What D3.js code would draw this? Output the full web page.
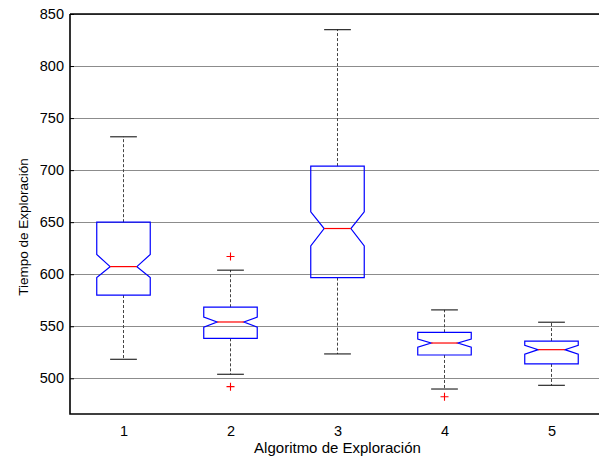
<!DOCTYPE html>
<html>
<head>
<meta charset="utf-8">
<script src="https://cdnjs.cloudflare.com/ajax/libs/d3/7.8.5/d3.min.js"></script>
<style>
	body { margin: 0; background: #fff; overflow: hidden; }
	text { font-family: "Liberation Sans", Arial, sans-serif; }
</style>
</head>
<body>
<div id="chart"></div>
<script>
///////////////////////////////////////////////////////////////////////////
///////////////////////////////// Data ////////////////////////////////////
///////////////////////////////////////////////////////////////////////////

	var algoritmos = [1, 2, 3, 4, 5];
	var q1Values      = [580.0, 538.4, 596.7, 522.4, 513.8];
	var medianValues  = [607.3, 554.1, 643.9, 533.9, 527.5];
	var q3Values      = [650.0, 568.3, 703.9, 544.2, 535.8];
	var notchLow      = [596.7, 549.2, 627.2, 530.0, 523.2];
	var notchHigh     = [618.9, 558.8, 659.9, 537.6, 531.8];
	var whiskerLow    = [518.3, 503.9, 523.4, 489.7, 493.3];
	var whiskerHigh   = [732.0, 603.9, 834.9, 565.7, 553.9];
	var outliers      = [[], [617.0, 492.0], [], [482.3], []];
	var yTicks        = [500, 550, 600, 650, 700, 750, 800, 850];

///////////////////////////////////////////////////////////////////////////
//////////////////////////// Set up the SVG ///////////////////////////////
///////////////////////////////////////////////////////////////////////////

	var width = 599,
		height = 456,
		plotLeft = 70,
		plotRight = 605,	//the axes run a bit past the picture
		plotTop = 14,
		plotBottom = 414;

	var svg = d3.select("#chart").append("svg")
		.attr("width", width)
		.attr("height", height);

	var x = d3.scaleLinear().domain([0.5, 5.5]).range([plotLeft, plotRight]);
	var y = d3.scaleLinear().domain([465.7, 850]).range([plotBottom, plotTop]);

	var boxHalf = 0.25,		//in x units
		notchHalf = 0.125,
		capHalf = 0.125;

	//////////////////////////////////////////////////////
	///////////////////// Grid lines /////////////////////
	//////////////////////////////////////////////////////

	svg.append("g").attr("class", "grid")
		.selectAll("line")
		.data(yTicks)
		.enter().append("line")
		.attr("x1", plotLeft)
		.attr("x2", plotRight)
		.attr("y1", function(d) { return Math.round(y(d)) + 0.5; })
		.attr("y2", function(d) { return Math.round(y(d)) + 0.5; })
		.style("stroke", "#8c8c8c")
		.style("stroke-width", 1);

	//////////////////////////////////////////////////////
	//////////////////////// Axes ////////////////////////
	//////////////////////////////////////////////////////

	var yAxis = d3.axisLeft(y).tickValues(yTicks).tickSize(-4).tickPadding(6);
	var yAxisG = svg.append("g")
		.attr("transform", "translate(" + plotLeft + ",0)")
		.call(yAxis);
	yAxisG.select(".domain").remove();
	yAxisG.selectAll("text")
		.attr("x", -6)
		.style("font-size", "14.5px")
		.attr("fill", "#000");

	//no visible tick marks on the bottom axis
	var xAxis = d3.axisBottom(x).tickValues(algoritmos).tickFormat(d3.format("d")).tickSize(0);
	var xAxisG = svg.append("g")
		.attr("transform", "translate(0," + plotBottom + ")")
		.call(xAxis);
	xAxisG.select(".domain").remove();
	xAxisG.selectAll("text")
		.attr("y", 12)
		.style("font-size", "14.5px")
		.attr("fill", "#000");

	//Frame
	svg.append("path")
		.attr("d", "M" + plotLeft + "," + plotTop + "H" + plotRight + "M" + plotLeft + "," + plotTop +
			"V" + plotBottom + "H" + plotRight)
		.style("fill", "none")
		.style("stroke", "#000")
		.style("stroke-width", 1.6);

	//////////////////////////////////////////////////////
	////////////////////// Boxplots //////////////////////
	//////////////////////////////////////////////////////

	var boxes = svg.append("g").attr("class", "boxes")
		.selectAll("g")
		.data(algoritmos)
		.enter().append("g");

	//Whiskers, dashed
	boxes.append("line")
		.attr("x1", function(d) { return x(d); })
		.attr("x2", function(d) { return x(d); })
		.attr("y1", function(d, i) { return y(q3Values[i]); })
		.attr("y2", function(d, i) { return y(whiskerHigh[i]); })
		.style("stroke", "#444")
		.style("stroke-dasharray", "3,2");
	boxes.append("line")
		.attr("x1", function(d) { return x(d); })
		.attr("x2", function(d) { return x(d); })
		.attr("y1", function(d, i) { return y(q1Values[i]); })
		.attr("y2", function(d, i) { return y(whiskerLow[i]); })
		.style("stroke", "#444")
		.style("stroke-dasharray", "3,2");

	//Whisker caps
	[whiskerHigh, whiskerLow].forEach(function(arr) {
		boxes.append("line")
			.attr("x1", function(d) { return x(d - capHalf); })
			.attr("x2", function(d) { return x(d + capHalf); })
			.attr("y1", function(d, i) { return y(arr[i]); })
			.attr("y2", function(d, i) { return y(arr[i]); })
			.style("stroke", "#000");
	});

	//Notched box outline
	boxes.append("path")
		.attr("d", function(d, i) {
			var l = x(d - boxHalf), r = x(d + boxHalf),
				nl = x(d - notchHalf), nr = x(d + notchHalf);
			return "M" + l + "," + y(q3Values[i]) +
				"L" + r + "," + y(q3Values[i]) +
				"L" + r + "," + y(notchHigh[i]) +
				"L" + nr + "," + y(medianValues[i]) +
				"L" + r + "," + y(notchLow[i]) +
				"L" + r + "," + y(q1Values[i]) +
				"L" + l + "," + y(q1Values[i]) +
				"L" + l + "," + y(notchLow[i]) +
				"L" + nl + "," + y(medianValues[i]) +
				"L" + l + "," + y(notchHigh[i]) + "Z";
		})
		.style("fill", "none")
		.style("stroke", "#0000ff")
		.style("stroke-width", 1.2);

	//Median
	boxes.append("line")
		.attr("x1", function(d) { return x(d - notchHalf); })
		.attr("x2", function(d) { return x(d + notchHalf); })
		.attr("y1", function(d, i) { return y(medianValues[i]); })
		.attr("y2", function(d, i) { return y(medianValues[i]); })
		.style("stroke", "#ff0000")
		.style("stroke-width", 1.2);

	//Outliers as red plus signs
	boxes.each(function(d, i) {
		d3.select(this).selectAll(".outlier")
			.data(outliers[i])
			.enter().append("path")
			.attr("class", "outlier")
			.attr("d", function(v) {
				var cx = x(d), cy = y(v);
				return "M" + (cx - 4) + "," + cy + "H" + (cx + 4) + "M" + cx + "," + (cy - 4) + "V" + (cy + 4);
			})
			.style("stroke", "#ff0000")
			.style("stroke-width", 1.1);
	});

	//////////////////////////////////////////////////////
	/////////////////////// Titles ///////////////////////
	//////////////////////////////////////////////////////

	svg.append("text")
		.attr("x", (plotLeft + plotRight) / 2)
		.attr("y", 453)
		.style("text-anchor", "middle")
		.style("font-size", "15px")
		.attr("fill", "#000")
		.text("Algoritmo de Exploración");

	svg.append("text")
		.attr("transform", "translate(28,227) rotate(-90)")
		.style("text-anchor", "middle")
		.style("font-size", "13.5px")
		.attr("fill", "#000")
		.text("Tiempo de Exploración");
</script>
</body>
</html>
